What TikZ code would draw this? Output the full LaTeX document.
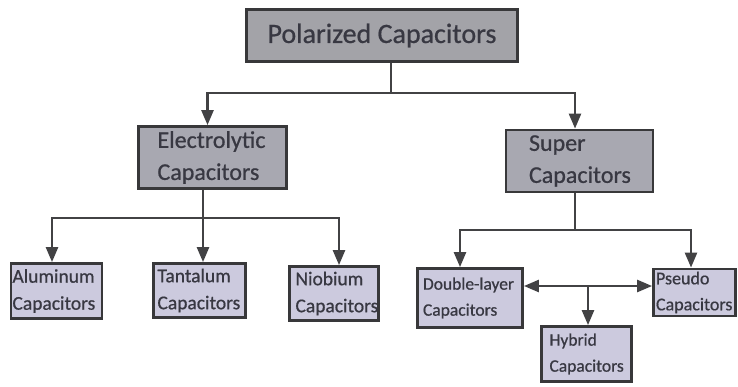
\documentclass[tikz,border=0pt]{standalone}
\usepackage{fontspec}
\setmainfont{Carlito}[FakeBold=0.7]
\usepackage{xcolor}
\usepackage{tikz}
\usetikzlibrary{arrows.meta}
\definecolor{grisborde}{RGB}{56,56,58}
\definecolor{grislinea}{RGB}{66,66,68}
\definecolor{gristexto}{RGB}{56,56,66}
\definecolor{grisalto}{RGB}{163,163,168}
\definecolor{grismedio}{RGB}{168,168,177}
\definecolor{lavanda}{RGB}{204,202,222}

\tikzset{
  caja/.style={draw=grisborde, line width=2.8pt, fill=#1, text=gristexto,
    inner ysep=0pt, align=left},
  linea/.style={draw=grislinea, line width=2.5pt},
  flecha/.style={linea, -{Triangle[length=15pt,width=12pt]}},
  flechados/.style={linea, {Triangle[length=15pt,width=12pt]}-{Triangle[length=15pt,width=12pt]}}
}

\begin{document}
\begin{tikzpicture}[x=1pt, y=-1pt]
    \useasboundingbox (0,0) rectangle (738,386);
    % nivel 1
    \node[caja=grisalto, align=center, minimum width=271pt, minimum height=52pt,
      font=\fontsize{28}{32}\selectfont] (polar) at (382,35.5) {Polarized Capacitors};
    % nivel 2
    \node[caja=grismedio, text width=110pt, inner xsep=19pt, minimum height=62pt,
      font=\fontsize{24}{32}\selectfont] (elec) at (212.5,157.5) {Electrolytic\\Capacitors};
    \node[caja=grismedio, text width=101pt, inner xsep=23pt, minimum height=62pt,
      font=\fontsize{24}{32}\selectfont] (super) at (579.5,161) {Super\\Capacitors};
    % nivel 3, rama electrolitica
    \node[caja=lavanda, text width=88pt, inner xsep=1.5pt, minimum height=55pt,
      font=\fontsize{19.5}{27}\selectfont] (alum) at (56.5,291) {Aluminum\\Capacitors};
    \node[caja=lavanda, text width=84pt, inner xsep=4pt, minimum height=54pt,
      font=\fontsize{19.5}{27}\selectfont] (tant) at (199.5,290.5) {Tantalum\\Capacitors};
    \node[caja=lavanda, text width=77pt, inner xsep=6pt, minimum height=54pt,
      font=\fontsize{19.5}{27}\selectfont] (niob) at (334,293.5) {Niobium\\Capacitors};
    % nivel 3, rama super
    \node[caja=lavanda, text width=94pt, inner xsep=5.5pt, minimum height=59pt,
      font=\fontsize{17.5}{26}\selectfont] (doble) at (470,298) {Double-layer\\Capacitors};
    \node[caja=lavanda, text width=77pt, inner xsep=2.5pt, minimum height=47pt,
      font=\fontsize{18}{26}\selectfont] (pseudo) at (694.5,292.5) {Pseudo\\Capacitors};
    \node[caja=lavanda, text width=74pt, inner xsep=8pt, minimum height=55pt,
      font=\fontsize{17.5}{26}\selectfont] (hibrido) at (586.5,354) {Hybrid\\Capacitors};
    % puntos de bifurcacion
    \coordinate (ramaA) at (391,93);
    \coordinate (ramaB) at (203,218);
    \coordinate (ramaC) at (575,230);
    \coordinate (ramaD) at (588,286);
    % conectores
    \draw[linea] (polar.south -| ramaA) -- (ramaA);
    \draw[flecha] (ramaA) -| ([xshift=-5pt]elec.north);
    \draw[flecha] (ramaA) -| ([xshift=-4.5pt]super.north);
    \draw[linea] (elec.south -| ramaB) -- (ramaB);
    \draw[flecha] (ramaB) -| ([xshift=-4.5pt]alum.north);
    \draw[flecha] (ramaB) -| ([xshift=3.5pt]tant.north);
    \draw[flecha] (ramaB) -| ([xshift=5pt]niob.north);
    \draw[linea] (super.south -| ramaC) -- (ramaC);
    \draw[flecha] (ramaC) -| ([xshift=-10pt]doble.north);
    \draw[flecha] (ramaC) -| ([xshift=-3.5pt]pseudo.north);
    \draw[flechados] (ramaD -| doble.east) -- (ramaD -| pseudo.west);
    \draw[flecha] (ramaD) -- (hibrido.north -| ramaD);
\end{tikzpicture}
\end{document}
